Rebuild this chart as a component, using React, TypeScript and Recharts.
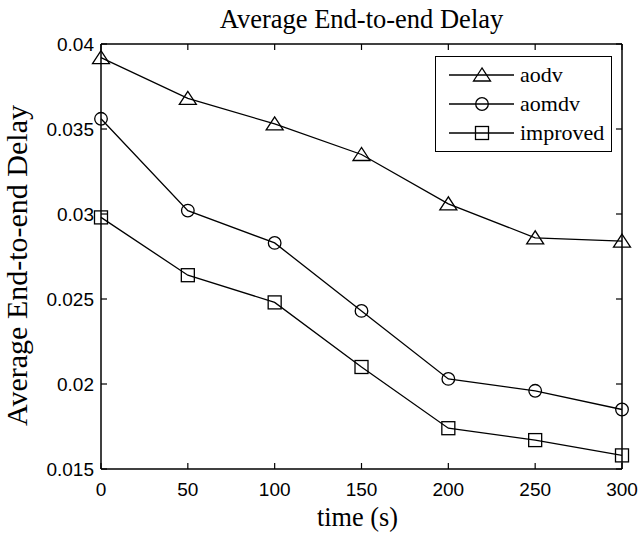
import { Legend, Line, LineChart, XAxis, YAxis } from 'recharts'

const times = [0, 50, 100, 150, 200, 250, 300]
const aodv = [0.0392, 0.0368, 0.0353, 0.0335, 0.0306, 0.0286, 0.0284]
const aomdv = [0.0356, 0.0302, 0.0283, 0.0243, 0.0203, 0.0196, 0.0185]
const improved = [0.0298, 0.0264, 0.0248, 0.021, 0.0174, 0.0167, 0.0158]

const xTicks = [0, 50, 100, 150, 200, 250, 300]
const yTicks = [0.015, 0.02, 0.025, 0.03, 0.035, 0.04]

type MarkerKind = 'triangle' | 'circle' | 'square'

const series: { key: string; name: string; marker: MarkerKind }[] = [
  { key: 'aodv', name: 'aodv', marker: 'triangle' },
  { key: 'aomdv', name: 'aomdv', marker: 'circle' },
  { key: 'improved', name: 'improved', marker: 'square' },
]

const data = times.map((t, i) => ({
  time: t,
  aodv: aodv[i],
  aomdv: aomdv[i],
  improved: improved[i],
}))

const SERIF = '"Liberation Serif", "Times New Roman", serif'
const SANS = '"Liberation Sans", Arial, sans-serif'
const TICK = 6

const Marker = ({ cx, cy, kind }: { cx: number; cy: number; kind: MarkerKind }) => {
  const common = { fill: 'none', stroke: '#000', strokeWidth: 1.3 }
  if (kind === 'triangle') {
    return <polygon points={`${cx},${cy - 7} ${cx - 8.5},${cy + 6} ${cx + 8.5},${cy + 6}`} {...common} />
  }
  if (kind === 'circle') {
    return <circle cx={cx} cy={cy} r={6.3} {...common} />
  }
  return <rect x={cx - 6.5} y={cy - 6.5} width={13} height={13} {...common} />
}

const makeDot = (kind: MarkerKind) => (p: any) => {
  if (p.cx == null || p.cy == null) return <g key={`${kind}-${p.index}`} />
  return <Marker key={`${kind}-${p.index}`} cx={p.cx} cy={p.cy} kind={kind} />
}

const BottomTick = ({ x, y, payload }: any) => (
  <g>
    <line x1={x} y1={y} x2={x} y2={y - TICK} stroke="#000" strokeWidth={1.2} />
    <text x={x} y={y + 27} textAnchor="middle" fontFamily={SANS} fontSize={19} fill="#000">
      {payload.value}
    </text>
  </g>
)

const LeftTick = ({ x, y, payload }: any) => (
  <g>
    <line x1={x} y1={y} x2={x + TICK} y2={y} stroke="#000" strokeWidth={1.2} />
    <text x={x - 7} y={y + 6.5} textAnchor="end" fontFamily={SANS} fontSize={19} fill="#000">
      {String(payload.value)}
    </text>
  </g>
)

const TopTick = ({ x, y }: any) => <line x1={x} y1={y} x2={x} y2={y + TICK} stroke="#000" strokeWidth={1.2} />

const RightTick = ({ x, y }: any) => <line x1={x} y1={y} x2={x - TICK} y2={y} stroke="#000" strokeWidth={1.2} />

const TitleLabel = ({ viewBox }: any) => (
  <text x={viewBox.x + viewBox.width / 2} y={44 - 16.5} textAnchor="middle" fontFamily={SERIF} fontSize={26.5} fill="#000">
    Average End-to-end Delay
  </text>
)

const XLabel = ({ viewBox }: any) => (
  <text x={viewBox.x + viewBox.width / 2 - 4} y={viewBox.y + 57} textAnchor="middle" fontFamily={SERIF} fontSize={26.3} fill="#000">
    time (s)
  </text>
)

const YLabel = ({ viewBox }: any) => {
  const cx = viewBox.x - 14
  const cy = viewBox.y + viewBox.height / 2 + 9
  return (
    <text x={cx} y={cy} transform={`rotate(-90, ${cx}, ${cy})`} textAnchor="middle" fontFamily={SERIF} fontSize={30} fill="#000">
      Average End-to-end Delay
    </text>
  )
}

const LegendBox = ({ payload }: any) => {
  // the helper line that binds the top/right axes shares a dataKey, keep one entry per series
  const seen = new Set<string>()
  const entries = (payload || []).filter((entry: any) => {
    if (entry.type === 'none' || seen.has(entry.dataKey)) return false
    if (!series.some((it) => it.key === entry.dataKey)) return false
    seen.add(entry.dataKey)
    return true
  })
  return (
    <div
      style={{
        border: '1.5px solid #000',
        background: '#fff',
        padding: '3px 0 6px 13px',
        boxSizing: 'border-box',
        width: 177,
        height: 96,
      }}
    >
      {entries.map((entry: any) => {
        const s = series.find((it) => it.key === entry.dataKey) || series[0]
        return (
          <div key={s.key} style={{ display: 'flex', alignItems: 'center', height: 29 }}>
            <svg width={65} height={20} style={{ display: 'block' }}>
              <line x1={0} y1={10} x2={65} y2={10} stroke="#000" strokeWidth={1.3} />
              <Marker cx={33} cy={10} kind={s.marker} />
            </svg>
            <span style={{ marginLeft: 6, fontFamily: SERIF, fontSize: 22, lineHeight: '29px', color: '#000' }}>
              {s.name}
            </span>
          </div>
        )
      })}
    </div>
  )
}

export default function App() {
  return (
    <div style={{ position: 'absolute', left: 0, top: 0, width: 644, height: 536, background: '#fff' }}>
      <LineChart width={644} height={536} data={data} margin={{ top: 43, right: 21, bottom: 37, left: 41 }}>
        <XAxis
          dataKey="time"
          type="number"
          domain={[0, 300]}
          ticks={xTicks}
          interval={0}
          height={30}
          tickSize={0}
          tickMargin={0}
          tickLine={false}
          tick={<BottomTick />}
          axisLine={{ stroke: '#000', strokeWidth: 1.5 }}
          label={<XLabel />}
        />
        <XAxis
          xAxisId="top"
          orientation="top"
          dataKey="time"
          type="number"
          domain={[0, 300]}
          ticks={xTicks}
          interval={0}
          height={1}
          tickSize={0}
          tickMargin={0}
          tickLine={false}
          tick={<TopTick />}
          axisLine={{ stroke: '#000', strokeWidth: 1.5 }}
          label={<TitleLabel />}
        />
        <YAxis
          type="number"
          domain={[0.015, 0.04]}
          ticks={yTicks}
          interval={0}
          width={60}
          tickSize={0}
          tickMargin={0}
          tickLine={false}
          tick={<LeftTick />}
          axisLine={{ stroke: '#000', strokeWidth: 1.5 }}
          label={<YLabel />}
        />
        <YAxis
          yAxisId="right"
          orientation="right"
          type="number"
          domain={[0.015, 0.04]}
          ticks={yTicks}
          interval={0}
          width={1}
          tickSize={0}
          tickMargin={0}
          tickLine={false}
          tick={<RightTick />}
          axisLine={{ stroke: '#000', strokeWidth: 1.5 }}
        />
        {series.map((s) => (
          <Line
            key={s.key}
            dataKey={s.key}
            name={s.name}
            stroke="#000"
            strokeWidth={1.3}
            dot={makeDot(s.marker)}
            activeDot={false}
            isAnimationActive={false}
          />
        ))}
        <Line
          xAxisId="top"
          yAxisId="right"
          dataKey="aodv"
          stroke="none"
          dot={false}
          activeDot={false}
          legendType="none"
          isAnimationActive={false}
        />
        <Legend
          layout="horizontal"
          verticalAlign="middle"
          align="center"
          content={<LegendBox />}
          wrapperStyle={{ position: 'absolute', top: 56, left: 435, width: 177, height: 96 }}
        />
      </LineChart>
    </div>
  )
}
